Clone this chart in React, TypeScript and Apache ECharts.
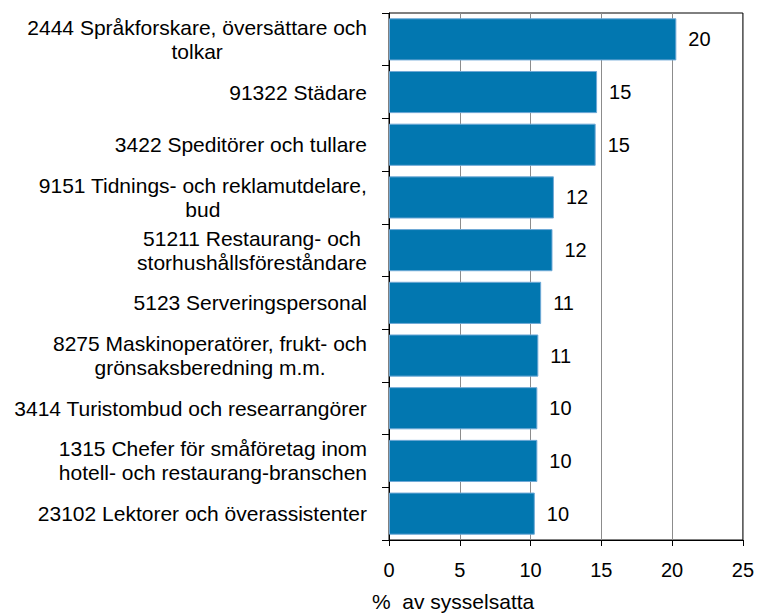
import React, { useEffect, useRef } from "react";
import * as echarts from "echarts";

const categories: string[] = [
  "2444 Språkforskare, översättare och\ntolkar",
  "91322 Städare",
  "3422 Speditörer och tullare",
  "9151 Tidnings- och reklamutdelare,\nbud",
  "51211 Restaurang- och\nstorhushållsföreståndare",
  "5123 Serveringspersonal",
  "8275 Maskinoperatörer, frukt- och\ngrönsaksberedning m.m.",
  "3414 Turistombud och researrangörer",
  "1315 Chefer för småföretag inom\nhotell- och restaurang-branschen",
  "23102 Lektorer och överassistenter",
];

const values: number[] = [20.3, 14.7, 14.6, 11.65, 11.55, 10.75, 10.55, 10.48, 10.48, 10.3];

const xTicks = { min: 0, max: 25, interval: 5 };
const axisTitle = "%  av sysselsatta";

const FONT = "'Liberation Sans', Arial, sans-serif";

export default function App() {
  const ref = useRef<HTMLDivElement>(null);
  useEffect(() => {
    if (!ref.current) return;
    const chart = echarts.init(ref.current, null, { renderer: "svg" });
    chart.setOption({
      animation: false,
      backgroundColor: "#ffffff",
      grid: {
        left: 389,
        right: 13,
        top: 13,
        bottom: 73,
        show: true,
        borderColor: "#000",
        borderWidth: 1,
        containLabel: false,
      },
      xAxis: {
        type: "value",
        min: xTicks.min,
        max: xTicks.max,
        interval: xTicks.interval,
        axisLine: { show: true, lineStyle: { color: "#000", width: 1 } },
        axisTick: { show: true, length: 6, lineStyle: { color: "#000" } },
        axisLabel: { fontSize: 20, fontFamily: FONT, color: "#000", margin: 20 },
        splitLine: { show: true, lineStyle: { color: "#8c8c8c", width: 1 } },
      },
      yAxis: {
        type: "category",
        data: categories,
        inverse: true,
        axisLine: { show: true, lineStyle: { color: "#000", width: 1 } },
        axisTick: { show: true, length: 7, lineStyle: { color: "#000" } },
        axisLabel: {
          margin: 22,
          color: "#000",
          fontSize: 21,
          fontFamily: FONT,
          lineHeight: 24,
          formatter: (v: string) =>
            v
              .split("\n")
              .map((l) => `{c|${l}}`)
              .join("\n"),
          rich: {
            c: { align: "center", fontSize: 21, fontFamily: FONT, color: "#000", lineHeight: 24 },
          },
        },
        splitLine: { show: false },
      },
      series: [
        {
          type: "bar",
          data: values,
          barCategoryGap: "20%",
          itemStyle: { color: "#0277b0", borderColor: "#6fa9d6", borderWidth: 1 },
          label: {
            show: true,
            position: "right",
            distance: 12,
            fontSize: 20,
            fontFamily: FONT,
            color: "#000",
            formatter: (p: any) => String(Math.round(p.value)),
          },
        },
      ],
      graphic: [
        {
          type: "text",
          left: 372,
          top: 591,
          style: { text: axisTitle, fontSize: 21, fontFamily: FONT, fill: "#000" },
        },
      ],
    });
    return () => chart.dispose();
  }, []);
  return (
    <div
      ref={ref}
      style={{ position: "fixed", left: 0, top: 0, width: 757, height: 613, background: "#fff" }}
    />
  );
}
